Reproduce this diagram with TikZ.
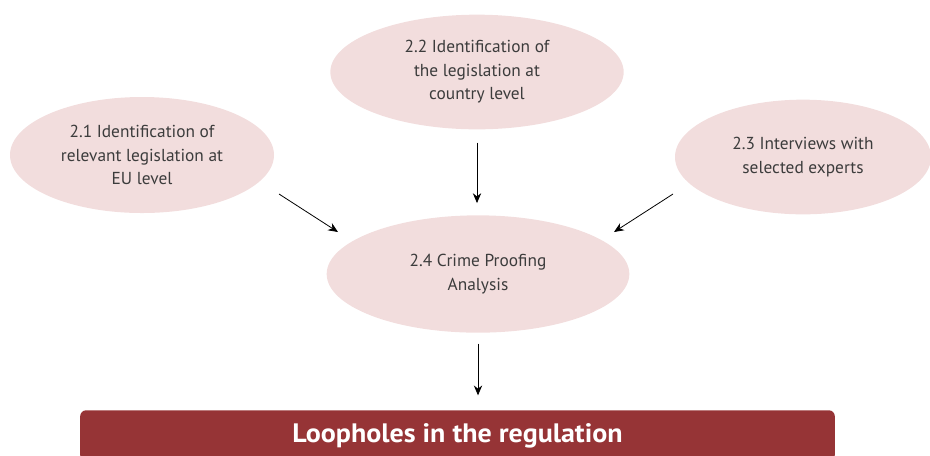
\documentclass[tikz,border=0pt]{standalone}
\usepackage{fontspec}
\setmainfont{PT Sans}
\newfontfamily\barfont[FakeStretch=1.05]{PT Sans Bold}
\usepackage{xcolor}
\usetikzlibrary{positioning, arrows.meta, shapes.geometric}
\definecolor{stepfill}{HTML}{F2DDDD}
\definecolor{stepgray}{HTML}{3C3C3C}
\definecolor{barred}{HTML}{963436}

\begin{document}
\begin{tikzpicture}[x=0.75pt, y=-0.75pt,
    font=\fontsize{13}{17.6}\selectfont,
    stepnode/.style={ellipse, fill=stepfill, inner sep=0pt, text=stepgray, align=center},
    arr/.style={-{Stealth[length=2.6mm, width=2.2mm]}, line width=0.6pt, black}]
  \useasboundingbox (0,0) rectangle (930,455);
  \node (eu) [stepnode, minimum width=198pt, minimum height=87pt] at (142,155)
        {2.1 Identification of\\relevant legislation at\\EU level};
  \node (country) [stepnode, minimum width=220pt, minimum height=86pt] at (477,72)
        {2.2 Identification of\\the legislation at\\country level};
  \node (experts) [stepnode, minimum width=192pt, minimum height=86pt] at (803,157)
        {2.3 Interviews with\\selected experts};
  \node (analysis) [stepnode, minimum width=227pt, minimum height=88pt] at (478,274)
        {2.4 Crime Proofing\\Analysis};
  \node (loopholes) [fill=barred, rounded corners=4.5pt, minimum width=566pt, minimum height=38pt,
        anchor=north, text=white, font=\barfont\fontsize{20}{24}\selectfont] at (457.5,410)
        {Loopholes in the regulation};
  \draw[arr] ([shift={(137,39)}]eu.center) -- ([shift={(-140,-42)}]analysis.center);
  \draw[arr, shorten >=9pt] ([yshift=-53pt]country.center) -- (country.center |- analysis.north);
  \draw[arr] ([shift={(-130,37)}]experts.center) -- ([shift={(136,-42)}]analysis.center);
  \draw[arr, shorten >=11pt] ([yshift=-8pt]analysis.south) -- (analysis.south |- loopholes.north);
\end{tikzpicture}
\end{document}
